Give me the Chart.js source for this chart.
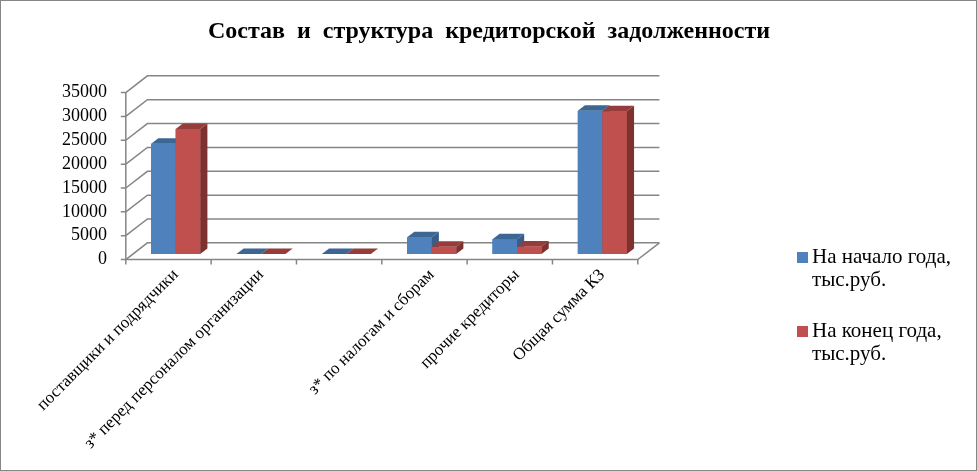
<!DOCTYPE html>
<html>
<head>
  <meta charset="utf-8">
  <title>Состав и структура кредиторской задолженности</title>
  <script src="https://cdn.jsdelivr.net/npm/chart.js"></script>
  <style>
    body { margin: 0; background: #fff; }
  </style>
</head>
<body>
  <canvas id="debtChart" width="977" height="471"></canvas>

  <script>
    // data (тыс.руб.)
    const categories = [
      'поставщики и подрядчики',
      'з* перед персоналом организации',
      '',
      'з* по налогам и сборам',
      'прочие кредиторы',
      'Общая сумма КЗ'
    ];
    const startValues = [23100, 0, 0, 3500, 3100, 30000];
    const endValues = [26200, 0, 0, 1500, 1550, 29900];
    const seriesNames = [['На начало года,', 'тыс.руб.'], ['На конец года,', 'тыс.руб.']];
    const yTicks = { min: 0, max: 35000, step: 5000 };

    const serif = '"Liberation Serif", "Times New Roman", serif';

    // depth of the 3d box: the bars sit in the middle third
    const depth = { x: 21.6, y: 16.7 };
    const front = { x: -depth.x / 3, y: depth.y / 3 };
    const back = { x: depth.x * 2 / 3, y: -depth.y * 2 / 3 };
    const barDepth = { x: depth.x / 3, y: depth.y / 3 };

    function poly(ctx, pts) {
      ctx.beginPath();
      ctx.moveTo(pts[0][0], pts[0][1]);
      for (let i = 1; i < pts.length; i++) ctx.lineTo(pts[i][0], pts[i][1]);
      ctx.closePath();
      ctx.fill();
    }

    const box3d = {
      id: 'box3d',
      beforeDatasetsDraw(chart) {
        const { ctx, chartArea: a, scales: { x, y } } = chart;
        ctx.save();
        ctx.strokeStyle = '#868686';
        ctx.lineWidth = 1.5;
        // back wall grid + diagonals + axis ticks
        y.ticks.forEach(t => {
          const py = y.getPixelForValue(t.value);
          ctx.beginPath();
          ctx.moveTo(a.left + front.x, py + front.y);
          ctx.lineTo(a.left + back.x, py + back.y);
          ctx.lineTo(a.right + back.x, py + back.y);
          ctx.moveTo(a.left + front.x - 5, py + front.y);
          ctx.lineTo(a.left + front.x, py + front.y);
          ctx.stroke();
        });
        const y0 = y.getPixelForValue(0);
        const yTop = y.getPixelForValue(y.max);
        ctx.beginPath();
        ctx.moveTo(a.left + front.x, yTop + front.y);
        ctx.lineTo(a.left + front.x, y0 + front.y);
        ctx.lineTo(a.right + front.x, y0 + front.y);
        ctx.lineTo(a.right + back.x, y0 + back.y);
        const n = x.ticks.length;
        const cw = (a.right - a.left) / n;
        for (let i = 0; i <= n; i++) {
          const px = a.left + front.x + i * cw;
          ctx.moveTo(px, y0 + front.y);
          ctx.lineTo(px, y0 + front.y + 5);
        }
        ctx.stroke();
        ctx.restore();
      },
      afterDatasetsDraw(chart) {
        const { ctx } = chart;
        ctx.save();
        chart.data.datasets.forEach((ds, i) => {
          chart.getDatasetMeta(i).data.forEach(bar => {
            const { x, y, base, width } = bar.getProps(['x', 'y', 'base', 'width'], true);
            const x1 = x - width / 2, x2 = x + width / 2;
            ctx.fillStyle = ds.backgroundColor;
            ctx.fillRect(x1, y, width, base - y);
            ctx.fillStyle = ds.topColor;
            poly(ctx, [[x1, y], [x2, y], [x2 + barDepth.x, y - barDepth.y], [x1 + barDepth.x, y - barDepth.y]]);
            ctx.fillStyle = ds.sideColor;
            poly(ctx, [[x2, y], [x2 + barDepth.x, y - barDepth.y], [x2 + barDepth.x, base - barDepth.y], [x2, base]]);
          });
        });
        ctx.restore();
      },
      afterDraw(chart) {
        const { ctx } = chart;
        ctx.save();
        // title
        ctx.fillStyle = '#000';
        ctx.font = 'bold 24px ' + serif;
        ctx.textAlign = 'center';
        ctx.textBaseline = 'alphabetic';
        ctx.fillText('Состав  и  структура  кредиторской  задолженности', 489, 38);
        // legend
        ctx.font = '21px ' + serif;
        ctx.textAlign = 'left';
        const rows = [252, 326];
        chart.data.datasets.forEach((ds, i) => {
          ctx.fillStyle = ds.backgroundColor;
          ctx.fillRect(797, rows[i], 11, 11);
          ctx.fillStyle = '#000';
          seriesNames[i].forEach((line, k) => ctx.fillText(line, 812, rows[i] + 11 + k * 23));
        });
        // outer frame
        ctx.strokeStyle = '#868686';
        ctx.lineWidth = 1;
        ctx.strokeRect(0.5, 0.5, 976, 470);
        ctx.restore();
      }
    };

    new Chart(document.getElementById('debtChart'), {
      type: 'bar',
      data: {
        labels: categories,
        datasets: [
          {
            label: seriesNames[0].join(' '),
            data: startValues,
            backgroundColor: '#4F81BD',
            topColor: '#3C6795',
            sideColor: '#375D89',
            categoryPercentage: 0.575,
            barPercentage: 1.0,
            borderWidth: 0
          },
          {
            label: seriesNames[1].join(' '),
            data: endValues,
            backgroundColor: '#C0504D',
            topColor: '#963D3B',
            sideColor: '#7E3230',
            categoryPercentage: 0.575,
            barPercentage: 1.0,
            borderWidth: 0
          }
        ]
      },
      options: {
        responsive: false,
        animation: false,
        events: [],
        layout: { padding: { top: 87, right: 977 - 645, bottom: 0, left: 0 } },
        plugins: {
          legend: { display: false },
          title: { display: false },
          tooltip: { enabled: false }
        },
        scales: {
          x: {
            grid: { display: false },
            border: { display: false },
            ticks: {
              color: '#000',
              font: { family: serif, size: 17 },
              minRotation: 45,
              maxRotation: 45,
              autoSkip: false,
              padding: 3,
              labelOffset: 0
            },
            afterFit(s) { s.height = 471 - 254; s.paddingLeft = 0; s.paddingRight = 0; }
          },
          y: {
            min: yTicks.min,
            max: yTicks.max,
            grid: { display: false },
            border: { display: false },
            ticks: {
              stepSize: yTicks.step,
              autoSkip: false,
              color: '#000',
              font: { family: serif, size: 18 },
              padding: 18,
              labelOffset: front.y,
              callback: v => String(v)
            },
            afterFit(s) { s.width = 133; s.paddingTop = 0; s.paddingBottom = 0; }
          }
        }
      },
      plugins: [box3d]
    });
  </script>
</body>
</html>
